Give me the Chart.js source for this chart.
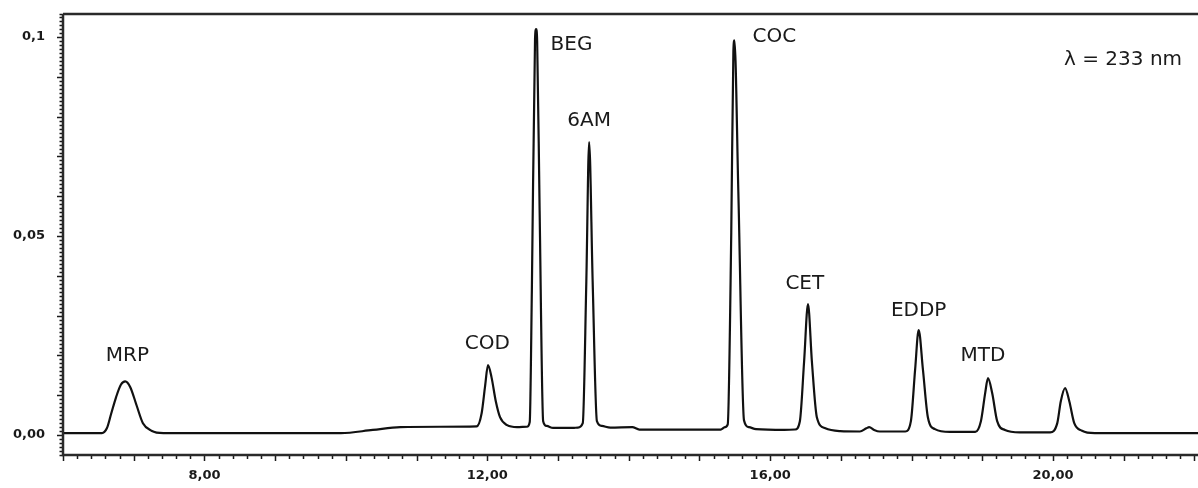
<!DOCTYPE html>
<html>
<head>
<meta charset="utf-8">
<script src="https://cdn.jsdelivr.net/npm/chart.js@4.4.1/dist/chart.umd.min.js"></script>
<style>
  html, body { margin: 0; padding: 0; background: #fff; }
  #wrap { width: 1198px; height: 488px; position: relative; }
</style>
</head>
<body>
<div id="wrap"><canvas id="chroma"></canvas></div>
<script>
// retention time (min) and absorbance
const retentionTimes = [
  6.00, 6.55, 6.62, 6.68, 6.75, 6.82, 6.88, 6.95, 7.04, 7.13, 7.25, 7.42,
  9.93, 10.38, 10.77, 11.33, 11.85,
  11.92, 11.97, 12.01, 12.06, 12.12, 12.18, 12.28, 12.42,
  12.56, 12.60, 12.63, 12.675, 12.69, 12.705, 12.74, 12.79, 12.84, 12.93, 13.21,
  13.28, 13.35, 13.40, 13.44, 13.49, 13.55, 13.62, 13.74,
  14.05, 14.15, 15.30,
  15.36, 15.40, 15.45, 15.48, 15.495, 15.55, 15.63, 15.70, 15.80, 16.20,
  16.35, 16.42, 16.48, 16.535, 16.59, 16.66, 16.78, 16.99,
  17.27, 17.36, 17.40, 17.47, 17.55,
  17.91, 17.99, 18.05, 18.10, 18.16, 18.23, 18.33, 18.54,
  18.90, 18.98, 19.04, 19.08, 19.14, 19.21, 19.32, 19.53,
  19.96, 20.06, 20.11, 20.17, 20.23, 20.30, 20.41, 20.59, 22.05
];
const absorbance = [
  0.0000, 0.0000, 0.0012, 0.0048, 0.0090, 0.0122, 0.0130, 0.0116, 0.0070, 0.0025, 0.0006, 0.0000,
  0.0000, 0.0008, 0.0015, 0.0016, 0.0017,
  0.0050, 0.0120, 0.0171, 0.0140, 0.0080, 0.0040, 0.0020, 0.0015,
  0.0016, 0.0028, 0.0357, 0.0990, 0.1015, 0.0985, 0.0560, 0.0030, 0.0018, 0.0013, 0.0013,
  0.0014, 0.0025, 0.0378, 0.0731, 0.0380, 0.0030, 0.0018, 0.0014,
  0.0015, 0.0009, 0.0009,
  0.0015, 0.0022, 0.0505, 0.0960, 0.0987, 0.0606, 0.0032, 0.0015, 0.0010, 0.0008,
  0.0009, 0.0030, 0.0180, 0.0324, 0.0180, 0.0040, 0.0012, 0.0005,
  0.0004, 0.0012, 0.0015, 0.0008, 0.0004,
  0.0004, 0.0030, 0.0160, 0.0259, 0.0160, 0.0040, 0.0010, 0.0003,
  0.0003, 0.0030, 0.0100, 0.0138, 0.0100, 0.0030, 0.0008, 0.0002,
  0.0002, 0.0025, 0.0080, 0.0113, 0.0080, 0.0025, 0.0006, 0.0000, 0.0000
];

// peak names and where their text sits (time, absorbance)
const peakNames = ['MRP', 'COD', 'BEG', '6AM', 'COC', 'CET', 'EDDP', 'MTD', 'λ = 233 nm'];
const labelTimes = [6.91, 12.00, 13.19, 13.44, 16.06, 16.49, 18.10, 19.01, 20.99];
const labelValues = [0.0193, 0.0224, 0.0975, 0.0784, 0.0995, 0.0374, 0.0307, 0.0193, 0.0937];

const xLabelTicks = [8, 12, 16, 20];
const yLabelTicks = { 0: '0,00', 50: '0,05', 100: '0,1' };

const INK = '#1a1a1a';

// tick marks: short every step, longer on round values
const tickMarks = {
  id: 'tickMarks',
  afterDraw(chart) {
    const { ctx, chartArea: a, scales: { x, y } } = chart;
    ctx.save();
    ctx.strokeStyle = INK;
    ctx.lineWidth = 1.5;
    ctx.beginPath();
    x.ticks.forEach(t => {
      const px = Math.round(x.getPixelForValue(t.value)) + 0.5;
      const major = Math.abs(t.value - Math.round(t.value)) < 1e-6;
      ctx.moveTo(px, a.bottom);
      ctx.lineTo(px, a.bottom + (major ? 6 : 4));
    });
    y.ticks.forEach(t => {
      const py = Math.round(y.getPixelForValue(t.value)) + 0.5;
      const major = Math.round(t.value * 1000) % 10 === 0;
      ctx.moveTo(a.left, py);
      ctx.lineTo(a.left - (major ? 6 : 3.5), py);
    });
    ctx.stroke();
    // frame: left, bottom, top
    ctx.lineWidth = 2.5;
    ctx.strokeStyle = '#2a2a2a';
    ctx.beginPath();
    ctx.moveTo(a.left, a.top);
    ctx.lineTo(a.right, a.top);
    ctx.moveTo(a.left, a.top);
    ctx.lineTo(a.left, a.bottom);
    ctx.lineTo(a.right, a.bottom);
    ctx.stroke();
    ctx.restore();
  }
};

const peakLabels = {
  id: 'peakLabels',
  afterDatasetsDraw(chart) {
    const { ctx, scales: { x, y } } = chart;
    ctx.save();
    ctx.fillStyle = INK;
    ctx.font = '20px "DejaVu Sans"';
    ctx.textAlign = 'center';
    ctx.textBaseline = 'middle';
    peakNames.forEach((name, i) => {
      ctx.fillText(name, x.getPixelForValue(labelTimes[i]), y.getPixelForValue(labelValues[i]));
    });
    ctx.restore();
  }
};

new Chart(document.getElementById('chroma'), {
  type: 'line',
  data: {
    datasets: [{
      data: retentionTimes.map((t, i) => ({ x: t, y: absorbance[i] })),
      borderColor: '#111',
      borderWidth: 2.2,
      pointRadius: 0,
      fill: false,
      cubicInterpolationMode: 'monotone'
    }]
  },
  options: {
    responsive: true,
    maintainAspectRatio: false,
    animation: false,
    layout: { padding: { top: 14, left: 0, right: 0, bottom: 0 } },
    plugins: { legend: { display: false }, tooltip: { enabled: false } },
    scales: {
      x: {
        type: 'linear',
        min: 6,
        max: 22.05,
        bounds: 'data',
        grid: { drawOnChartArea: false, drawTicks: true, tickLength: 6, tickColor: 'transparent' },
        border: { display: false },
        ticks: {
          stepSize: 0.2,
          includeBounds: false,
          autoSkip: false,
          maxRotation: 0,
          padding: 7,
          color: INK,
          font: { family: '"DejaVu Sans"', size: 13, weight: 'bold' },
          callback: v => xLabelTicks.some(l => Math.abs(l - v) < 1e-6) ? v.toFixed(2).replace('.', ',') : ''
        },
        afterFit: s => { s.height = 33; s.paddingLeft = 0; s.paddingRight = 0; }
      },
      y: {
        min: -0.0055,
        max: 0.1053,
        bounds: 'data',
        grid: { drawOnChartArea: false, drawTicks: true, tickLength: 8, tickColor: 'transparent' },
        border: { display: false },
        ticks: {
          stepSize: 0.001,
          includeBounds: false,
          autoSkip: false,
          padding: 10,
          color: INK,
          font: { family: '"DejaVu Sans"', size: 13, weight: 'bold' },
          callback: v => yLabelTicks[Math.round(v * 1000)] ?? ''
        },
        afterFit: s => { s.width = 63; s.paddingTop = 0; s.paddingBottom = 0; }
      }
    }
  },
  plugins: [tickMarks, peakLabels]
});
</script>
</body>
</html>
